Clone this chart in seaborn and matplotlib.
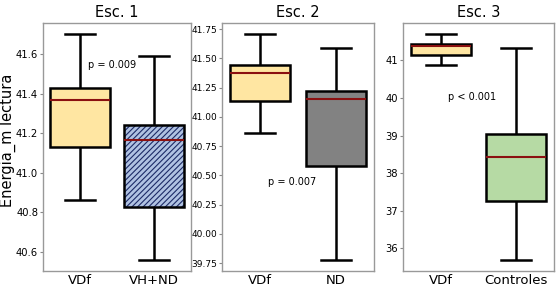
import matplotlib
matplotlib.use("Agg")
import matplotlib.pyplot as plt
import matplotlib.colors as mcolors
import seaborn as sns
import pandas as pd

# Five-number summaries: [min, Q1, median, Q3, max]
esc1_cats = ["VDf", "VH+ND"]
esc1_vdf = [40.86, 41.13, 41.37, 41.43, 41.70]
esc1_vhnd = [40.56, 40.825, 41.165, 41.24, 41.59]

esc2_cats = ["VDf", "ND"]
esc2_vdf = [40.865, 41.135, 41.375, 41.44, 41.705]
esc2_nd = [39.78, 40.58, 41.15, 41.22, 41.59]

esc3_cats = ["VDf", "Controles"]
esc3_vdf = [40.87, 41.14, 41.37, 41.43, 41.69]
esc3_ctrl = [35.70, 37.27, 38.42, 39.03, 41.32]

titles = ["Esc. 1", "Esc. 2", "Esc. 3"]
pvals = ["p = 0.009", "p = 0.007", "p < 0.001"]
ylabel = "Energia_m lectura"

yellow = "#FFE6A2"
blue = "#B0C2E2"
gray = "#828282"
green = "#B6DAA4"
median_color = "#8B1010"
hatch_color = "#1C2A66"

matplotlib.rcParams["hatch.linewidth"] = 0.8

fig = plt.figure(figsize=(5.57, 2.88), dpi=100)
axes_pos = [
    (43 / 557, 1 - 271 / 288, 148 / 557, 248 / 288),
    (222 / 557, 1 - 271 / 288, 152 / 557, 248 / 288),
    (403 / 557, 1 - 271 / 288, 151 / 557, 248 / 288),
]
axes = [fig.add_axes(p) for p in axes_pos]

panels = [
    (esc1_cats, esc1_vdf, esc1_vhnd, [yellow, blue]),
    (esc2_cats, esc2_vdf, esc2_nd, [yellow, gray]),
    (esc3_cats, esc3_vdf, esc3_ctrl, [yellow, green]),
]
tick_sizes = [7.2, 6.5, 7.2]
ptext_pos = [(0.47, 0.83), (0.46, 0.36), (0.46, 0.70)]

for i, (ax, (cats, a, b, cols)) in enumerate(zip(axes, panels)):
    df = pd.DataFrame({
        "grupo": [cats[0]] * len(a) + [cats[1]] * len(b),
        "valor": a + b,
    })
    sns.boxplot(
        data=df, x="grupo", y="valor", hue="grupo", order=cats,
        palette=cols, legend=False, ax=ax, whis=(0, 100), width=0.8,
        saturation=1, linewidth=1.8, linecolor="black",
        medianprops=dict(color=median_color, linewidth=1.5),
        capprops=dict(color="black", linewidth=1.8),
        whiskerprops=dict(color="black", linewidth=1.8),
        boxprops=dict(edgecolor="black", linewidth=1.8),
        showfliers=False,
    )
    ax.set_title(titles[i], fontsize=10.5, pad=4)
    ax.set_xlabel("")
    ax.set_ylabel("")
    ax.tick_params(axis="x", labelsize=9.5, length=0, pad=2)
    ax.tick_params(axis="y", labelsize=tick_sizes[i], length=2, pad=1.5,
                   color="#888888")
    for s in ax.spines.values():
        s.set_color("#999999")
        s.set_linewidth(1.0)
    ax.text(ptext_pos[i][0], ptext_pos[i][1], pvals[i], transform=ax.transAxes,
            ha="center", va="center", fontsize=7)

# hatch on VH+ND box (navy hatch, black edge)
patches = list(axes[0].patches)
if len(patches) >= 2:
    patches[1].set_hatch("//////")
    patches[1].set_edgecolor("black")
    patches[1]._hatch_color = mcolors.to_rgba(hatch_color)

axes[1].set_yticks([39.75, 40.0, 40.25, 40.5, 40.75, 41.0, 41.25, 41.5, 41.75])

# y label placed at the left figure edge
fig.text(0.0, 1 - 140 / 288, ylabel, rotation=90, ha="left",
         va="center", fontsize=10.5)

fig.savefig("out.png", dpi=100)
